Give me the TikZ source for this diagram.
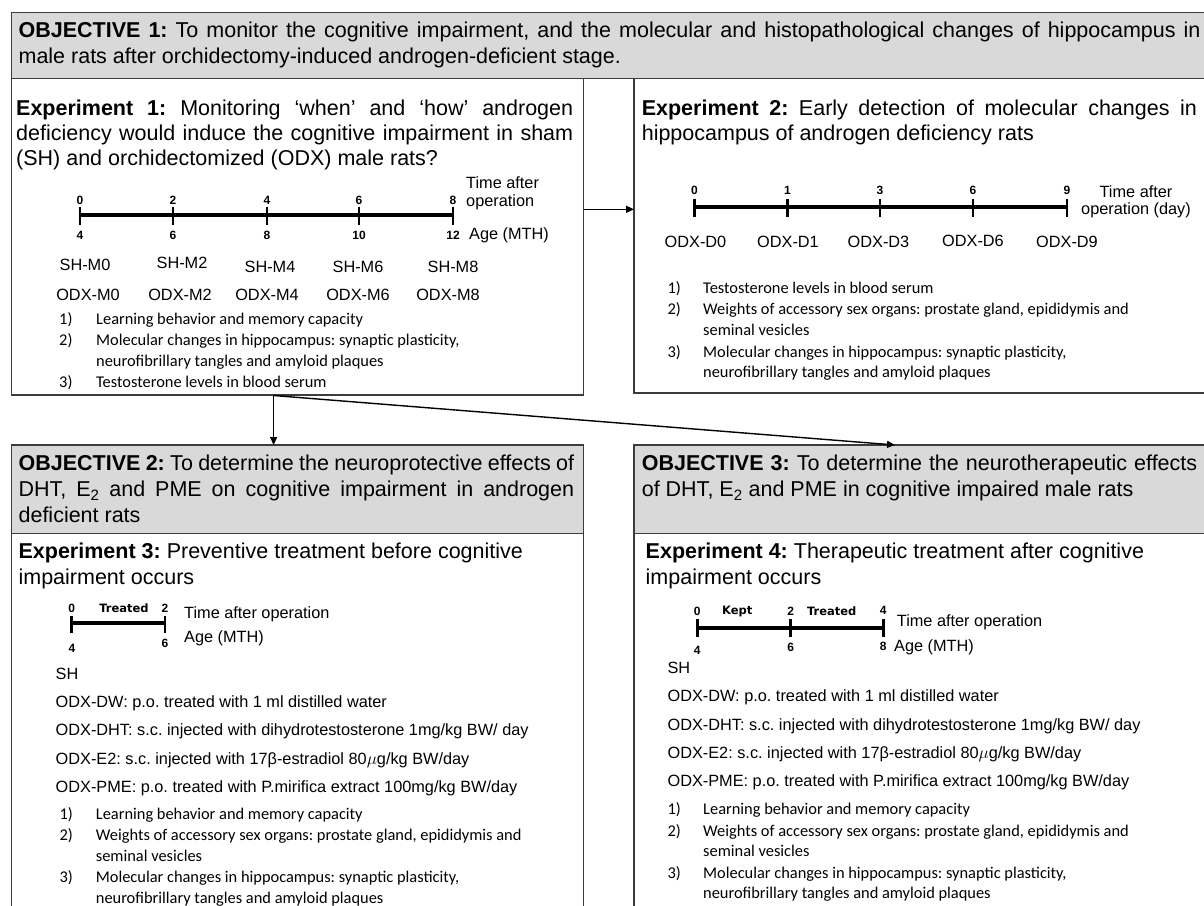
\documentclass[tikz,border=0pt]{standalone}
\usepackage{fontspec}
\setmainfont{Liberation Sans}
\newfontfamily\calfont{Carlito}
\newfontfamily\numfont{DejaVu Sans}
\usetikzlibrary{arrows.meta}
\definecolor{objgray}{RGB}{217,217,217}
\definecolor{edge}{RGB}{60,60,60}
\newcommand{\jl}[2]{\makebox[#1][s]{#2}}
\frenchspacing
\begin{document}
\begin{tikzpicture}[x=1pt,y=-1pt,
  frame/.style={draw=edge, line width=1.2pt, inner sep=0pt, outer sep=0pt, anchor=north west},
  objbox/.style={frame, fill=objgray},
  hd/.style={anchor=base west, inner sep=0pt, font=\fontsize{21.5}{25}\selectfont},
  it/.style={anchor=base west, inner sep=0pt, font=\fontsize{16.3}{19}\selectfont},
  lab/.style={anchor=base, inner sep=0pt, font=\fontsize{16.3}{19}\selectfont},
  li/.style={anchor=base west, inner sep=0pt, font=\calfont\fontsize{16.4}{20}\selectfont},
  tn/.style={inner sep=0pt, font=\bfseries\fontsize{12}{13}\selectfont},
  tw/.style={inner sep=0pt, font=\numfont\bfseries\fontsize{11.5}{12}\selectfont},
  tline/.style={line width=4pt},
  tickmark/.style={line width=2.6pt},
  arr/.style={line width=1.4pt, draw=black, -{Triangle[length=8pt,width=7pt]}}
]
\useasboundingbox (0,0) rectangle (1204,905);
\clip (0,0) rectangle (1204,905);
\fill[white] (0,0) rectangle (1204,905);

% ---------- boxes ----------
\node[objbox, minimum width=1200pt, minimum height=65.6pt] (obj1) at (11.5,12.7) {};
\node[frame, fill=white, minimum width=572.1pt, minimum height=316.7pt] (exp1) at (11.5,78.3) {};
\node[frame, fill=white, minimum width=581pt, minimum height=314.7pt] (exp2) at (634,78.3) {};
\node[objbox, minimum width=572.1pt, minimum height=88.3pt] (obj2) at (11.5,445) {};
\node[frame, fill=white, minimum width=572.1pt, minimum height=400pt] (exp3) at (11.5,533.3) {};
\node[objbox, minimum width=581pt, minimum height=88.3pt] (obj3) at (634,445) {};
\node[frame, fill=white, minimum width=581pt, minimum height=400pt] (exp4) at (634,533.3) {};

% ---------- connectors ----------
\coordinate (h0) at (583.6,209.3);
\draw[arr] (h0) -- (h0 -| exp2.west);
\coordinate (v0) at (273.6,395.5);
\draw[arr] (v0) -- (v0 |- obj2.north);
\coordinate (d1) at (895,445);
\draw[arr] (v0) -- (d1);

% ---------- Objective 1 ----------
\node[hd] (o1a) at (18.4,37.7) {\jl{1182pt}{\textbf{OBJECTIVE 1:} To monitor the cognitive impairment, and the molecular and histopathological changes of hippocampus in}};
\node[hd] (o1b) at (18.4,63.3) {male rats after orchidectomy-induced androgen-deficient stage.};

% ---------- Experiment 1 ----------
\node[hd] (e1a) at (16,115) {\jl{557pt}{\textbf{Experiment 1:} Monitoring ‘when’ and ‘how’ androgen}};
\node[hd] (e1b) at (16,140) {\jl{557pt}{deficiency would induce the cognitive impairment in sham}};
\node[hd] (e1c) at (16,165.7) {(SH) and orchidectomized (ODX) male rats?};

\draw[tline] (80,215) -- (453,215);
\foreach \x in {80,173,267,359,453} \draw[tickmark] (\x,206.5) -- (\x,225);
\node[tn] (e1t0) at (80,200) {0};
\node[tn] (e1t2) at (173,200) {2};
\node[tn] (e1t4) at (267,200) {4};
\node[tn] (e1t6) at (359,200) {6};
\node[tn] (e1t8) at (453,200) {8};
\node[tn] (e1b4) at (80,235) {4};
\node[tn] (e1b6) at (173,235) {6};
\node[tn] (e1b8) at (267,235) {8};
\node[tn] (e1b10) at (359,235) {10};
\node[tn] (e1b12) at (453,235) {12};
\node[it] (e1ta) at (466,188.3) {Time after};
\node[it] (e1tb) at (466,206.7) {operation};
\node[it] (e1age) at (469,239) {Age (MTH)};

\node[lab] (sh0) at (85,270.5) {SH-M0};
\node[lab] (sh2) at (182,268.5) {SH-M2};
\node[lab] (sh4) at (270,272.5) {SH-M4};
\node[lab] (sh6) at (358,272.5) {SH-M6};
\node[lab] (sh8) at (453,272.5) {SH-M8};
\node[lab] (od0) at (88,300) {ODX-M0};
\node[lab] (od2) at (180,300) {ODX-M2};
\node[lab] (od4) at (267,300) {ODX-M4};
\node[lab] (od6) at (358,300) {ODX-M6};
\node[lab] (od8) at (448,300) {ODX-M8};

\node[li] (e1n1) at (59,324) {1)};
\node[li] (e1l1) at (96,324) {Learning behavior and memory capacity};
\node[li] (e1n2) at (59,345) {2)};
\node[li] (e1l2) at (96,345) {Molecular changes in hippocampus: synaptic plasticity,};
\node[li] (e1l2b) at (96,366) {neurofibrillary tangles and amyloid plaques};
\node[li] (e1n3) at (59,387) {3)};
\node[li] (e1l3) at (96,387) {Testosterone levels in blood serum};

% ---------- Experiment 2 ----------
\node[hd] (e2a) at (641.6,115) {\jl{555pt}{\textbf{Experiment 2:} Early detection of molecular changes in}};
\node[hd] (e2b) at (641.6,140) {hippocampus of androgen deficiency rats};

\draw[tline] (694.5,207) -- (1067,207);
\foreach \x in {694.5,787.5,880,973,1067} \draw[tickmark] (\x,198.5) -- (\x,217);
\node[tn] (e2t0) at (694.5,190) {0};
\node[tn] (e2t1) at (787.5,190) {1};
\node[tn] (e2t3) at (880,190) {3};
\node[tn] (e2t6) at (973,190) {6};
\node[tn] (e2t9) at (1067,190) {9};
\node[lab] (e2ta) at (1136,197) {Time after};
\node[lab] (e2tb) at (1136,214.5) {operation (day)};
\node[lab] (dd0) at (695.5,247.5) {ODX-D0};
\node[lab] (dd1) at (788,247.5) {ODX-D1};
\node[lab] (dd3) at (878.5,247.5) {ODX-D3};
\node[lab] (dd6) at (973,246) {ODX-D6};
\node[lab] (dd9) at (1067,247.5) {ODX-D9};

\node[li] (e2n1) at (667.4,293) {1)};
\node[li] (e2l1) at (703,293) {Testosterone levels in blood serum};
\node[li] (e2n2) at (667.4,314) {2)};
\node[li] (e2l2) at (703,314) {Weights of accessory sex organs: prostate gland, epididymis and};
\node[li] (e2l2b) at (703,335) {seminal vesicles};
\node[li] (e2n3) at (667.4,357) {3)};
\node[li] (e2l3) at (703,357) {Molecular changes in hippocampus: synaptic plasticity,};
\node[li] (e2l3b) at (703,377) {neurofibrillary tangles and amyloid plaques};

% ---------- Objective 2 ----------
\node[hd] (o2a) at (18.4,470.7) {\jl{555.6pt}{\textbf{OBJECTIVE 2:} To determine the neuroprotective effects of}};
\node[hd] (o2b) at (18.4,496.7) {\jl{555.6pt}{DHT, E\textsubscript{2} and PME on cognitive impairment in androgen}};
\node[hd] (o2c) at (18.4,522.7) {deficient rats};

% ---------- Experiment 3 ----------
\node[hd] (e3a) at (18.4,558.3) {\textbf{Experiment 3:} Preventive treatment before cognitive};
\node[hd] (e3b) at (18.4,584) {impairment occurs};

\draw[tline] (71.7,623.3) -- (165,623.3);
\foreach \x in {71.7,165} \draw[tickmark] (\x,616) -- (\x,633);
\node[tn] (e3t0) at (71.7,608.3) {0};
\node[tw] (e3tr) at (124,608.3) {Treated};
\node[tn] (e3t2) at (165,608.3) {2};
\node[tn] (e3b4) at (72,648) {4};
\node[tn] (e3b6) at (165,643.3) {6};
\node[it] (e3ta) at (184,618.3) {Time after operation};
\node[it] (e3age) at (184,642.7) {Age (MTH)};

\node[it] (e3s0) at (55.5,679) {SH};
\node[it] (e3s1) at (55.5,707) {ODX-DW: p.o. treated with 1 ml distilled water};
\node[it] (e3s2) at (55.5,735.5) {ODX-DHT: s.c. injected with dihydrotestosterone 1mg/kg BW/ day};
\node[it] (e3s3) at (55.5,764) {ODX-E2: s.c. injected with 17β-estradiol 80$\mu$g/kg BW/day};
\node[it] (e3s4) at (55.5,792) {ODX-PME: p.o. treated with P.mirifica extract 100mg/kg BW/day};

\node[li] (e3n1) at (59.3,819.5) {1)};
\node[li] (e3l1) at (95.7,819.5) {Learning behavior and memory capacity};
\node[li] (e3n2) at (59.3,840.5) {2)};
\node[li] (e3l2) at (95.7,840.5) {Weights of accessory sex organs: prostate gland, epididymis and};
\node[li] (e3l2b) at (95.7,861) {seminal vesicles};
\node[li] (e3n3) at (59.3,882.5) {3)};
\node[li] (e3l3) at (95.7,882.5) {Molecular changes in hippocampus: synaptic plasticity,};
\node[li] (e3l3b) at (95.7,903) {neurofibrillary tangles and amyloid plaques};

% ---------- Objective 3 ----------
\node[hd] (o3a) at (641.6,470.7) {\jl{555.4pt}{\textbf{OBJECTIVE 3:} To determine the neurotherapeutic effects}};
\node[hd] (o3b) at (641.6,496.7) {of DHT, E\textsubscript{2} and PME in cognitive impaired male rats};

% ---------- Experiment 4 ----------
\node[hd] (e4a) at (645.5,558.3) {\textbf{Experiment 4:} Therapeutic treatment after cognitive};
\node[hd] (e4b) at (645.5,584) {impairment occurs};

\draw[tline] (697.3,628.3) -- (883.3,628.3);
\foreach \x in {697.3,790.7,883.3} \draw[tickmark] (\x,619) -- (\x,636.7);
\node[tn] (e4t0) at (697.3,611.7) {0};
\node[tw] (e4kp) at (737.3,611.7) {Kept};
\node[tn] (e4t2) at (790.7,611.7) {2};
\node[tw] (e4tr) at (831.7,611.7) {Treated};
\node[tn] (e4t4) at (883.3,610.7) {4};
\node[tn] (e4b4) at (697.3,650) {4};
\node[tn] (e4b6) at (790.7,647) {6};
\node[tn] (e4b8) at (883.3,646) {8};
\node[it] (e4ta) at (896.7,626.5) {Time after operation};
\node[it] (e4age) at (894,651.5) {Age (MTH)};

\node[it] (e4s0) at (667.4,673) {SH};
\node[it] (e4s1) at (667.4,701.5) {ODX-DW: p.o. treated with 1 ml distilled water};
\node[it] (e4s2) at (667.4,730) {ODX-DHT: s.c. injected with dihydrotestosterone 1mg/kg BW/ day};
\node[it] (e4s3) at (667.4,758.5) {ODX-E2: s.c. injected with 17β-estradiol 80$\mu$g/kg BW/day};
\node[it] (e4s4) at (667.4,786.5) {ODX-PME: p.o. treated with P.mirifica extract 100mg/kg BW/day};

\node[li] (e4n1) at (667.4,814) {1)};
\node[li] (e4l1) at (703,814) {Learning behavior and memory capacity};
\node[li] (e4n2) at (667.4,836) {2)};
\node[li] (e4l2) at (703,836) {Weights of accessory sex organs: prostate gland, epididymis and};
\node[li] (e4l2b) at (703,856) {seminal vesicles};
\node[li] (e4n3) at (667.4,878.3) {3)};
\node[li] (e4l3) at (703,878.3) {Molecular changes in hippocampus: synaptic plasticity,};
\node[li] (e4l3b) at (703,898.3) {neurofibrillary tangles and amyloid plaques};
\end{tikzpicture}
\end{document}
